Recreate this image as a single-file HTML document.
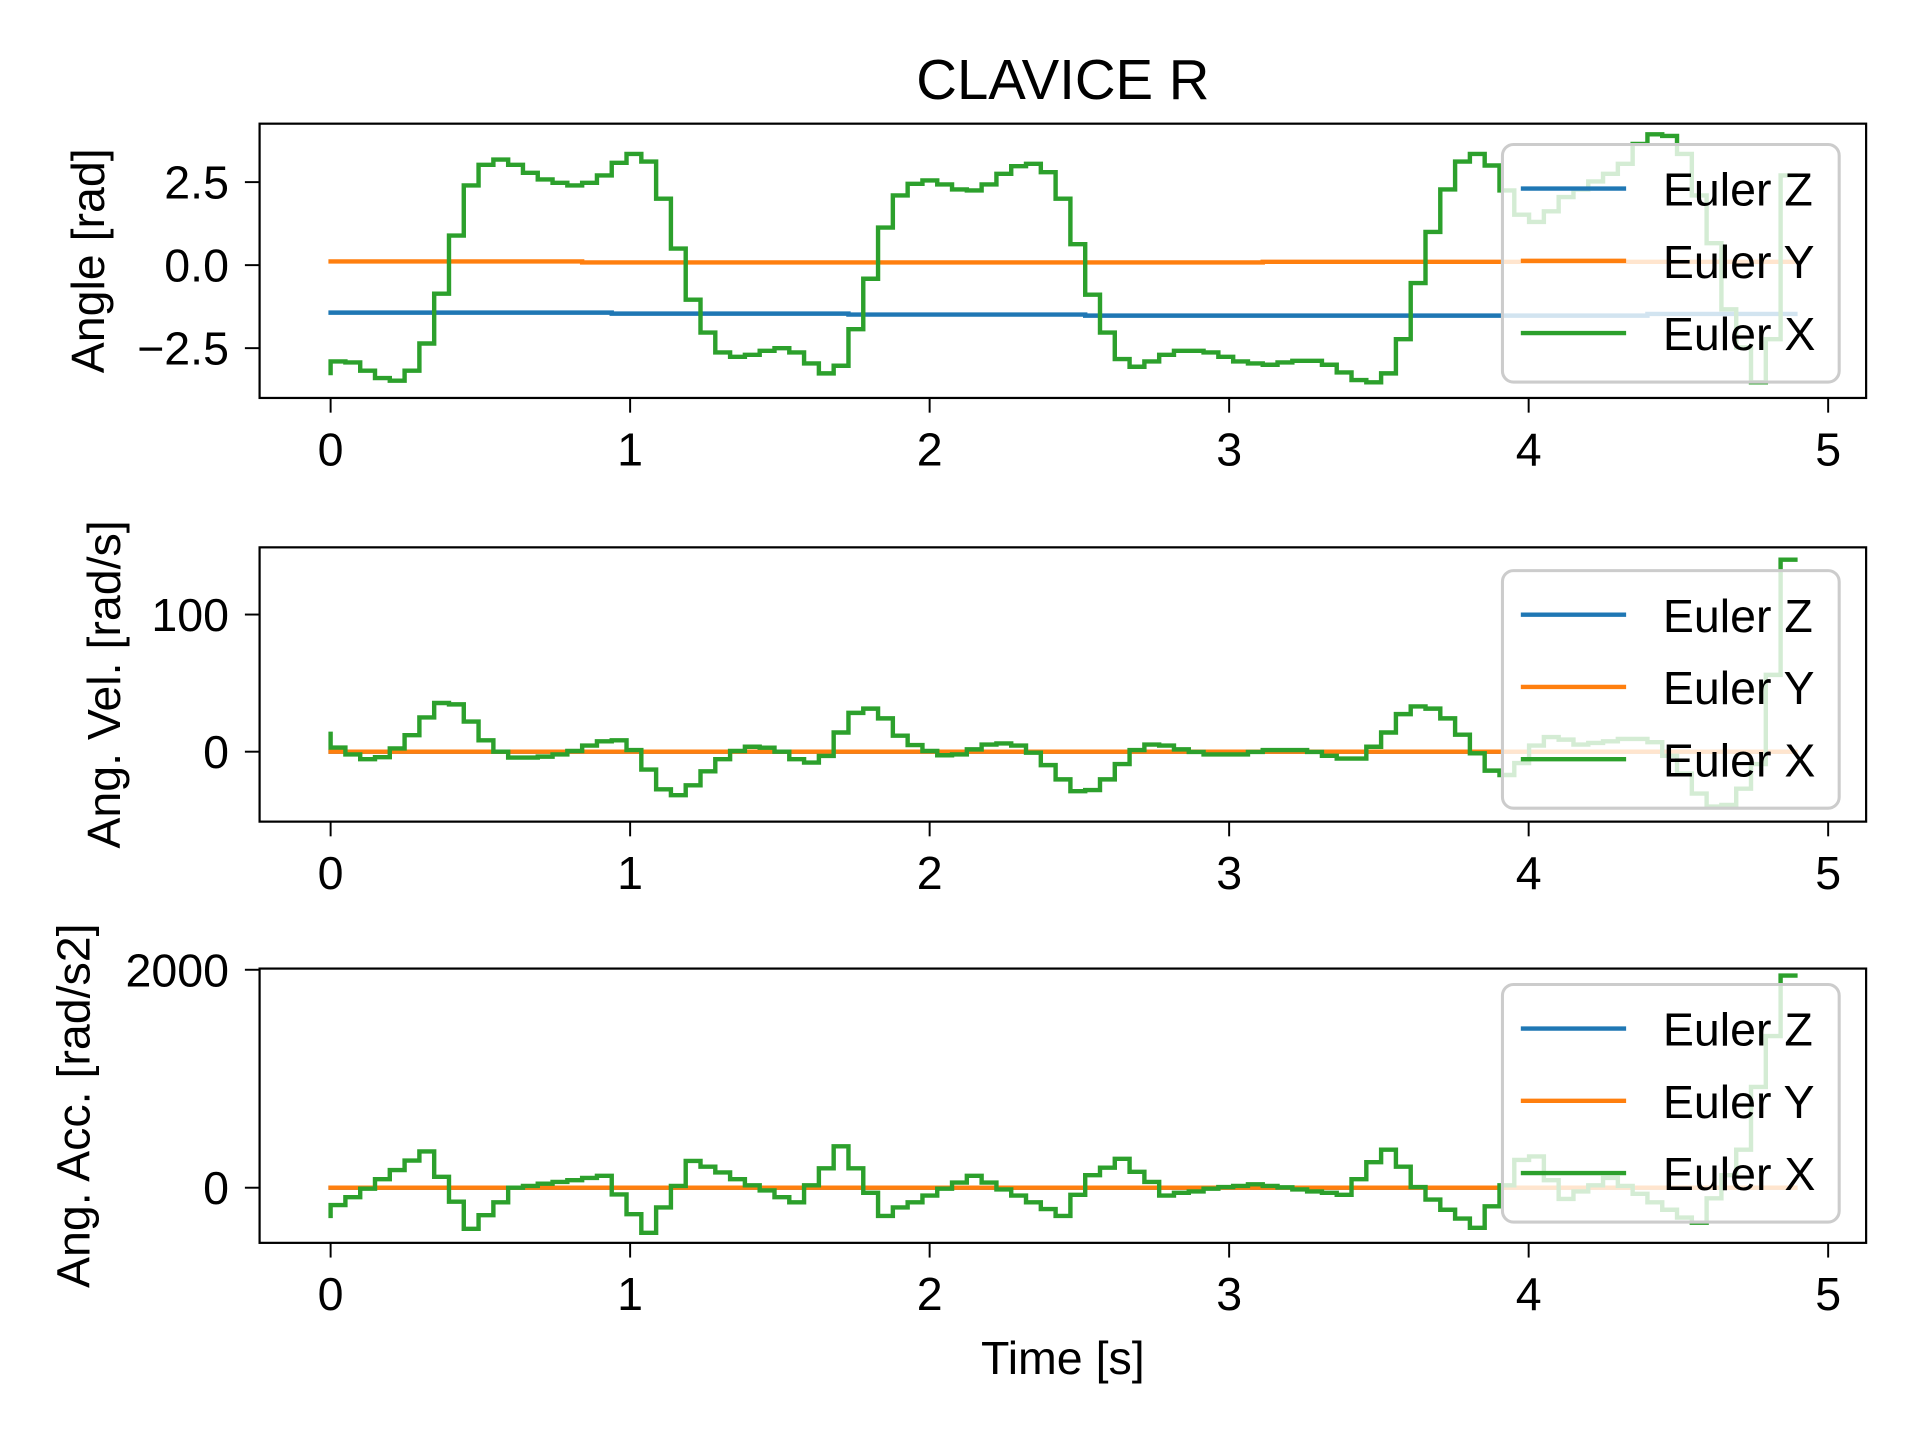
<!DOCTYPE html>
<html><head><meta charset="utf-8"><title>CLAVICE R</title>
<style>
html,body{margin:0;padding:0;background:#fff;}
svg{display:block;font-family:"Liberation Sans",Arial,sans-serif;}
</style></head>
<body>
<svg id="chart" width="1920" height="1440" viewBox="0 0 1568 1176" xmlns="http://www.w3.org/2000/svg">
<rect x="0" y="0" width="1568" height="1176" fill="#fff"/>
<text x="868" y="81" font-size="46" text-anchor="middle">CLAVICE R</text>
<text x="868" y="1122" font-size="38" text-anchor="middle">Time [s]</text>
<g id="panels"></g>
</svg>
<script>
// ---- data ----
const dtSec = 0.0494;
const xTicks = [0, 1, 2, 3, 4, 5];
const seriesNames = ["Euler Z", "Euler Y", "Euler X"];

const angleX = [-3.25,
-2.9,-2.93,-3.18,-3.4,-3.48,-3.18,-2.36,-0.86,0.89,2.4,
3.02,3.18,3.02,2.78,2.58,2.48,2.4,2.48,2.7,3.08,
3.35,3.12,2.0,0.5,-1.04,-2.03,-2.63,-2.76,-2.7,-2.58,
-2.5,-2.63,-2.96,-3.26,-3.03,-1.93,-0.41,1.13,2.1,2.45,
2.55,2.43,2.28,2.25,2.43,2.75,2.98,3.05,2.8,2.0,
0.63,-0.89,-2.03,-2.83,-3.06,-2.9,-2.7,-2.58,-2.58,-2.63,
-2.76,-2.9,-2.96,-3.0,-2.93,-2.88,-2.88,-3.0,-3.23,-3.46,
-3.53,-3.26,-2.23,-0.54,1.0,2.28,3.12,3.35,3.0,2.25,
1.52,1.3,1.62,2.05,2.28,2.52,2.75,3.05,3.65,3.94,
3.89,3.35,2.1,0.66,-1.33,-2.48,-3.53,-2.23,2.7];
const angleY = [
0.11,0.11,0.11,0.11,0.11,0.11,0.11,0.11,0.11,0.11,
0.11,0.11,0.11,0.11,0.11,0.11,0.11,0.11,0.08,0.08,
0.08,0.08,0.08,0.08,0.08,0.08,0.08,0.08,0.08,0.08,
0.08,0.08,0.08,0.08,0.08,0.08,0.08,0.08,0.08,0.08,
0.08,0.08,0.08,0.08,0.08,0.08,0.08,0.08,0.08,0.08,
0.08,0.08,0.08,0.08,0.08,0.08,0.08,0.08,0.08,0.08,
0.08,0.08,0.08,0.08,0.1,0.1,0.1,0.1,0.1,0.1,
0.1,0.1,0.1,0.1,0.1,0.1,0.1,0.1,0.1,0.1,
0.1,0.1,0.1,0.1,0.1,0.1,0.1,0.1,0.1,0.1,
0.1,0.1,0.1,0.1,0.1,0.1,0.1,0.1,0.1,0.1];
const angleZ = [
-1.43,-1.43,-1.43,-1.43,-1.43,-1.43,-1.43,-1.43,-1.43,-1.43,
-1.43,-1.43,-1.43,-1.43,-1.43,-1.43,-1.43,-1.43,-1.43,-1.43,
-1.46,-1.46,-1.46,-1.46,-1.46,-1.46,-1.46,-1.46,-1.46,-1.46,
-1.46,-1.46,-1.46,-1.46,-1.46,-1.46,-1.49,-1.49,-1.49,-1.49,
-1.49,-1.49,-1.49,-1.49,-1.49,-1.49,-1.49,-1.49,-1.49,-1.49,
-1.49,-1.49,-1.52,-1.52,-1.52,-1.52,-1.52,-1.52,-1.52,-1.52,
-1.52,-1.52,-1.52,-1.52,-1.52,-1.52,-1.52,-1.52,-1.52,-1.52,
-1.52,-1.52,-1.52,-1.52,-1.52,-1.52,-1.52,-1.52,-1.52,-1.52,
-1.52,-1.52,-1.52,-1.52,-1.52,-1.52,-1.52,-1.52,-1.52,-1.52,
-1.47,-1.47,-1.47,-1.47,-1.47,-1.47,-1.47,-1.47,-1.47,-1.47];

const velX = [13,
3,-2,-5.5,-4,2.4,12,25,35.5,34.5,22,
8.3,0,-4.3,-4.3,-3.6,-2,0.5,4.5,7.6,8.3,
1.2,-13,-27.4,-31.7,-24.5,-14.3,-5.5,0.5,3.6,2.9,
0,-5.5,-7.9,-3.1,14,28.3,31.4,24.3,11.7,4.8,
0.5,-2.6,-2,1.7,5.2,6,4.5,-0.7,-9.8,-20.2,
-28.8,-28,-20.2,-9,1.2,5.2,4.5,1.7,-0.2,-2,
-2,-2,-0.2,1.2,1.2,1.2,-0.2,-3,-5,-5,
3.6,14,27.4,33,31.4,24.3,12.4,-1.2,-13.8,-17,
-8.3,4.5,10.7,8.8,5.2,6.4,7.6,9.3,9.3,6.9,
-3,-16,-30.5,-40,-38.8,-27,-9,56,140];
const velY = [
0,0,0,0,0,0,0,0,0,0, 0,0,0,0,0,0,0,0,0,0,
0,0,0,0,0,0,0,0,0,0, 0,0,0,0,0,0,0,0,0,0,
0,0,0,0,0,0,0,0,0,0, 0,0,0,0,0,0,0,0,0,0,
0,0,0,0,0,0,0,0,0,0, 0,0,0,0,0,0,0,0,0,0,
0,0,0,0,0,0,0,0,0,0, 0,0,0,0,0,0,0,0,0,0];
const velZ = [
0,0,0,0,0,0,0,0,0,0, 0,0,0,0,0,0,0,0,0,0,
0,0,0,0,0,0,0,0,0,0, 0,0,0,0,0,0,0,0,0,0,
0,0,0,0,0,0,0,0,0,0, 0,0,0,0,0,0,0,0,0,0,
0,0,0,0,0,0,0,0,0,0, 0,0,0,0,0,0,0,0,0,0,
0,0,0,0,0,0,0,0,0,0, 0,0,0,0,0,0,0,0,0,0];

const accX = [-259,
-159,-87,-9,78,162,249,333,100,-128,-377,
-252,-134,0,16,37,53,69,90,109,-62,
-243,-414,-181,16,246,193,140,78,22,-25,
-87,-134,22,178,380,178,-47,-259,-181,-134,
-72,-9,47,109,47,-16,-72,-134,-196,-259,
-65,115,184,265,146,53,-72,-47,-34,-9,
6,16,31,16,3,-16,-34,-47,-65,78,
234,349,193,6,-109,-202,-283,-368,-171,22,
255,287,69,-103,-34,22,90,16,-56,-134,
-202,-274,-321,-97,115,349,925,1392,1947];
const accY = [
0,0,0,0,0,0,0,0,0,0, 0,0,0,0,0,0,0,0,0,0,
0,0,0,0,0,0,0,0,0,0, 0,0,0,0,0,0,0,0,0,0,
0,0,0,0,0,0,0,0,0,0, 0,0,0,0,0,0,0,0,0,0,
0,0,0,0,0,0,0,0,0,0, 0,0,0,0,0,0,0,0,0,0,
0,0,0,0,0,0,0,0,0,0, 0,0,0,0,0,0,0,0,0,0];
const accZ = [
0,0,0,0,0,0,0,0,0,0, 0,0,0,0,0,0,0,0,0,0,
0,0,0,0,0,0,0,0,0,0, 0,0,0,0,0,0,0,0,0,0,
0,0,0,0,0,0,0,0,0,0, 0,0,0,0,0,0,0,0,0,0,
0,0,0,0,0,0,0,0,0,0, 0,0,0,0,0,0,0,0,0,0,
0,0,0,0,0,0,0,0,0,0, 0,0,0,0,0,0,0,0,0,0];

const angleTicks = [2.5, 0, -2.5];
const angleTickLabels = ["2.5", "0.0", "\u22122.5"];
const velTicks = [100, 0];
const velTickLabels = ["100", "0"];
const accTicks = [2000, 0];
const accTickLabels = ["2000", "0"];

// ---- layout ----
const NS = "http://www.w3.org/2000/svg";
const X0 = 212, X1 = 1524;
const xScale = t => 270 + (t - 0) * (1493 - 270) / 5;
const colors = ["#1f77b4", "#ff7f0e", "#2ca02c"];

const panels = [
  {name:"angle", top:101, bottom:325, vTop:4.26, vBot:-4.0, ticks:angleTicks, labels:angleTickLabels,
   ylabel:"Angle [rad]", ylx:72, series:[angleZ, angleY, angleX], legTop:118},
  {name:"velocity", top:447, bottom:671, vTop:149, vBot:-51, ticks:velTicks, labels:velTickLabels,
   ylabel:"Ang. Vel. [rad/s]", ylx:85, series:[velZ, velY, velX], legTop:466},
  {name:"acceleration", top:791, bottom:1015, vTop:2011, vBot:-506, ticks:accTicks, labels:accTickLabels,
   ylabel:"Ang. Acc. [rad/s2]", ylx:60, series:[accZ, accY, accX], legTop:804}
];

const root = document.getElementById("panels");
function mk(tag, attrs, parent){
  const e = document.createElementNS(NS, tag);
  for (const k in attrs) e.setAttribute(k, attrs[k]);
  (parent || root).appendChild(e);
  return e;
}

panels.forEach((p, pi) => {
  const yScale = v => p.top + (p.vTop - v) * (p.bottom - p.top) / (p.vTop - p.vBot);
  const g = mk("g", {});
  
  

  const clip = mk("clipPath", {id:"clip" + pi}, g);
  mk("rect", {x:X0, y:p.top, width:X1 - X0, height:p.bottom - p.top}, clip);

  const lines = mk("g", {"clip-path":"url(#clip" + pi + ")"}, g);
  p.series.forEach((vals, si) => {
    let d = "";
    for (let k = 0; k < vals.length; k++) {
      const x = xScale(k * dtSec);
      const y = yScale(vals[k]);
      if (k === 0) d += "M" + x.toFixed(2) + "," + y.toFixed(2);
      else {
        const xp = xScale((k - 1) * dtSec);
        d += "L" + xp.toFixed(2) + "," + y.toFixed(2) + "L" + x.toFixed(2) + "," + y.toFixed(2);
      }
    }
    const path = mk("path", {d:d, fill:"none", stroke:colors[si], "stroke-width":3.6, "stroke-linejoin":"miter", "stroke-linecap":"square"}, lines);
    
    
  });

  const frame = mk("rect", {x:X0, y:p.top, width:X1 - X0, height:p.bottom - p.top, fill:"none", stroke:"#000", "stroke-width":1.8}, g);
  
  

  xTicks.forEach(t => {
    const x = xScale(t);
    mk("line", {x1:x, x2:x, y1:p.bottom, y2:p.bottom + 12, stroke:"#000", "stroke-width":1.6}, g);
    const lbl = mk("text", {x:x, y:p.bottom + 55, "font-size":38, "text-anchor":"middle"}, g);
    lbl.textContent = String(t);
    
    
  });
  p.ticks.forEach((v, ti) => {
    const y = yScale(v);
    mk("line", {x1:X0 - 12, x2:X0, y1:y, y2:y, stroke:"#000", "stroke-width":1.6}, g);
    const lbl = mk("text", {x:187, y:y + 13.5, "font-size":38, "text-anchor":"end"}, g);
    lbl.textContent = p.labels[ti];
    
    
  });
  const cy = (p.top + p.bottom) / 2;
  const yl = mk("text", {x:p.ylx, y:cy, "font-size":38, "text-anchor":"middle", transform:"rotate(-90 " + p.ylx + " " + cy + ")", dy:"13"}, g);
  yl.textContent = p.ylabel;
  
  

  const leg = mk("g", {}, g);
  
  
  mk("rect", {x:1227, y:p.legTop, width:275, height:194, rx:9, ry:9, fill:"#fff", "fill-opacity":0.8, stroke:"#cccccc", "stroke-width":2.5}, leg);
  seriesNames.forEach((nm, si) => {
    const ly = p.legTop + 36 + si * 59;
    const entry = mk("g", {}, leg);
    
    
    mk("line", {x1:1242, x2:1328, y1:ly, y2:ly, stroke:colors[si], "stroke-width":3.6}, entry);
    const t = mk("text", {x:1358, y:ly + 14, "font-size":38}, entry);
    t.textContent = nm;
  });
});
</script>
</body></html>
